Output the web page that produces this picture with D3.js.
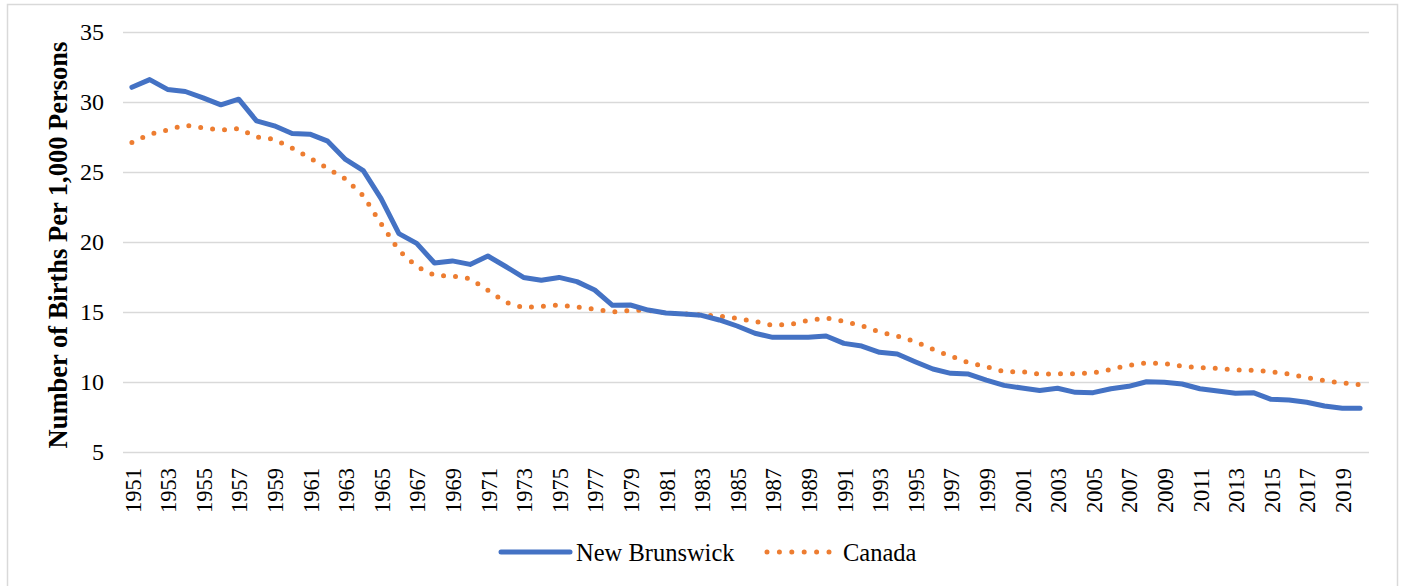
<!DOCTYPE html>
<html>
<head>
<meta charset="utf-8">
<script src="https://cdn.jsdelivr.net/npm/d3@7"></script>
<style>
  body { margin: 0; background: #fff; }
  text { font-family: "Times New Roman", "Liberation Serif", serif; fill: #000; }
</style>
</head>
<body>
<div id="chart"></div>
<script>
// data
var years = [1951,1952,1953,1954,1955,1956,1957,1958,1959,1960,
             1961,1962,1963,1964,1965,1966,1967,1968,1969,1970,
             1971,1972,1973,1974,1975,1976,1977,1978,1979,1980,
             1981,1982,1983,1984,1985,1986,1987,1988,1989,1990,
             1991,1992,1993,1994,1995,1996,1997,1998,1999,2000,
             2001,2002,2003,2004,2005,2006,2007,2008,2009,2010,
             2011,2012,2013,2014,2015,2016,2017,2018,2019,2020];

var newBrunswick = [31.05,31.6,30.9,30.75,30.3,29.8,30.2,28.65,28.3,27.75,
                    27.7,27.2,25.9,25.1,23.1,20.6,19.9,18.5,18.65,18.4,
                    19.0,18.25,17.47,17.27,17.47,17.17,16.57,15.48,15.5,15.14,
                    14.93,14.86,14.76,14.43,14.0,13.48,13.19,13.19,13.19,13.29,
                    12.76,12.57,12.12,12.0,11.45,10.93,10.62,10.57,10.14,9.76,
                    9.57,9.40,9.55,9.26,9.24,9.52,9.69,10.02,9.98,9.86,
                    9.52,9.36,9.19,9.24,8.76,8.71,8.55,8.29,8.12,8.12];

var canada = [27.1,27.7,28.0,28.35,28.15,28.0,28.1,27.5,27.33,26.7,
              26.0,25.26,24.5,23.3,21.3,19.4,18.24,17.62,17.57,17.38,
              16.55,15.7,15.31,15.4,15.5,15.36,15.21,15.0,15.12,15.12,
              14.93,14.86,14.79,14.71,14.55,14.33,14.05,14.12,14.4,14.57,
              14.33,14.02,13.57,13.29,12.88,12.33,11.85,11.38,11.1,10.74,
              10.74,10.55,10.59,10.59,10.66,10.9,11.19,11.36,11.33,11.12,
              11.02,10.98,10.86,10.83,10.74,10.57,10.31,10.1,9.93,9.81];

var yTicks = [5,10,15,20,25,30,35];
var seriesNames = ["New Brunswick", "Canada"];

// set the dimensions and margins of the graph
var W = 1401, H = 586;
var margin = {top: 32, right: 32, bottom: 134, left: 123},
    width = W - margin.left - margin.right,
    height = H - margin.top - margin.bottom;

var svg = d3.select("#chart")
  .append("svg")
    .attr("width", W)
    .attr("height", H);

// outer frame
svg.append("rect")
  .attr("x", 7.5).attr("y", 4.5)
  .attr("width", 1390).attr("height", 590)
  .attr("fill", "none")
  .attr("stroke", "#d9d9d9")
  .attr("stroke-width", 1.5);

var g = svg.append("g")
  .attr("transform", "translate(" + margin.left + "," + margin.top + ")");

// scales
var x = d3.scalePoint()
  .domain(years)
  .range([0, width])
  .padding(0.5);

var y = d3.scaleLinear()
  .domain([5, 35])
  .range([height, 0]);

// Y axis + gridlines
var yAxis = g.append("g")
  .call(d3.axisLeft(y).tickValues(yTicks).tickSize(-width).tickPadding(19));
yAxis.select(".domain").remove();
yAxis.selectAll(".tick line")
  .attr("stroke", "#d9d9d9")
  .attr("stroke-width", 1.5);
yAxis.selectAll(".tick text")
  .style("font-size", "24px");

// X axis labels (every other year)
var xAxis = g.append("g")
  .attr("transform", "translate(0," + height + ")")
  .call(d3.axisBottom(x).tickValues(years.filter(function(d, i) { return i % 2 === 0; })).tickSize(0));
xAxis.select(".domain").remove();
xAxis.selectAll(".tick text")
  .style("font-size", "22.5px")
  .attr("text-anchor", "end")
  .attr("dy", "0.36em")
  .attr("x", -16)
  .attr("y", 0)
  .attr("transform", "rotate(-90)");

// Y axis title
svg.append("text")
  .attr("transform", "translate(67," + (margin.top + height / 2 + 3) + ") rotate(-90)")
  .attr("text-anchor", "middle")
  .style("font-size", "26.5px")
  .style("font-weight", "bold")
  .text("Number of Births Per 1,000 Persons");

// lines
var line = d3.line()
  .x(function(d, i) { return x(years[i]); })
  .y(function(d) { return y(d); });

g.append("path")
  .datum(canada)
  .attr("fill", "none")
  .attr("stroke", "#ED7D31")
  .attr("stroke-width", 5)
  .attr("stroke-linecap", "round")
  .attr("stroke-dasharray", "0,12")
  .attr("d", line);

g.append("path")
  .datum(newBrunswick)
  .attr("fill", "none")
  .attr("stroke", "#4472C4")
  .attr("stroke-width", 5)
  .attr("stroke-linejoin", "round")
  .attr("stroke-linecap", "round")
  .attr("d", line);

// legend
var legend = svg.append("g").attr("transform", "translate(0,552)");

legend.append("line")
  .attr("x1", 501).attr("x2", 570)
  .attr("y1", 0).attr("y2", 0)
  .attr("stroke", "#4472C4")
  .attr("stroke-width", 5)
  .attr("stroke-linecap", "round");
legend.append("text")
  .attr("x", 576).attr("y", 0).attr("dy", "0.35em")
  .style("font-size", "24.5px")
  .text(seriesNames[0]);

legend.append("line")
  .attr("x1", 767).attr("x2", 830)
  .attr("y1", 0).attr("y2", 0)
  .attr("stroke", "#ED7D31")
  .attr("stroke-width", 5)
  .attr("stroke-linecap", "round")
  .attr("stroke-dasharray", "0,12.4");
legend.append("text")
  .attr("x", 843).attr("y", 0).attr("dy", "0.35em")
  .style("font-size", "24.5px")
  .text(seriesNames[1]);
</script>
</body>
</html>
